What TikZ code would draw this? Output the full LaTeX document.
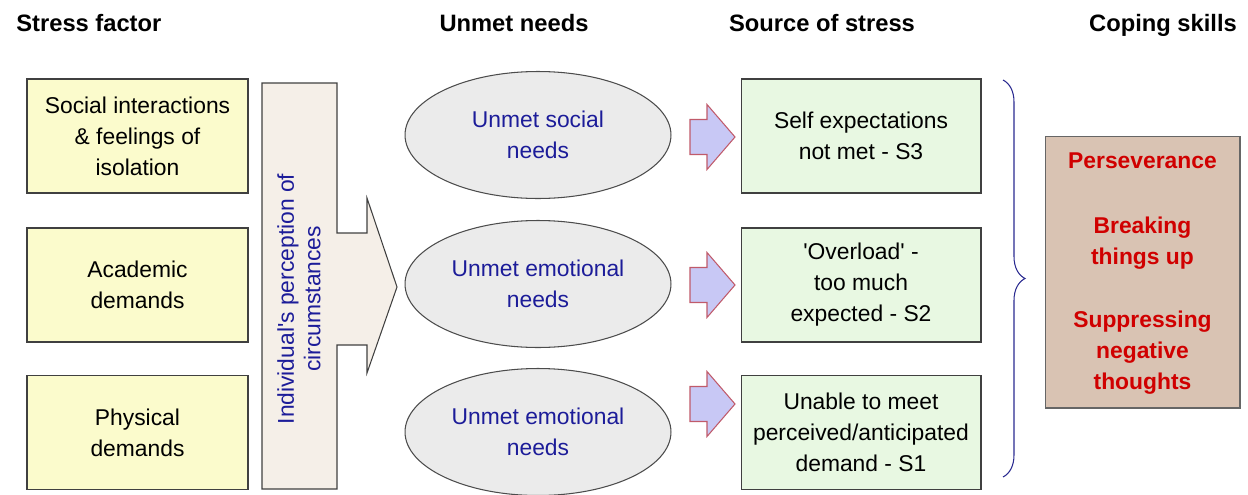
\documentclass[tikz,border=0pt]{standalone}
\usepackage{fontspec}
\setmainfont{Liberation Sans}
\usepackage{tikz}
\usetikzlibrary{positioning}
\usetikzlibrary{shapes,arrows,calc,decorations.pathreplacing}

\definecolor{factorfill}{HTML}{FBFBCC}
\definecolor{percfill}{HTML}{F5EFE8}
\definecolor{needfill}{HTML}{EBEBEB}
\definecolor{needtext}{HTML}{1C1C99}
\definecolor{arrowfill}{HTML}{C8C8F5}
\definecolor{arrowline}{HTML}{C05A6A}
\definecolor{sourcefill}{HTML}{E8F8E2}
\definecolor{copefill}{HTML}{D9C3B3}
\definecolor{copetext}{HTML}{D00000}
\definecolor{bracecol}{HTML}{2A2A90}

\begin{document}
\begin{tikzpicture}[x=0.02cm, y=-0.02cm, semithick,
  every node/.style={font=\fontsize{13}{17.6}\selectfont, align=center},
  head/.style={font=\fontsize{13.5}{16}\selectfont\bfseries},
  factor/.style={draw=black!75, fill=factorfill, minimum width=4.42cm, minimum height=2.28cm},
  need/.style={ellipse, draw=black!70, fill=needfill, text=needtext, minimum width=5.32cm, minimum height=2.54cm, inner sep=0pt},
  source/.style={draw=black!75, fill=sourcefill, minimum width=4.8cm, minimum height=2.28cm},
  cope/.style={draw=black!60, fill=copefill, text=copetext, font=\fontsize{13}{17.6}\selectfont\bfseries, minimum width=3.9cm, minimum height=5.44cm}]
  \useasboundingbox (0,0) rectangle (1248,494);

  % column titles
  \node[head, anchor=base west] (T1) at (10,31) {Stress factor};
  \node[head, anchor=base] (T2) at (514,31) {Unmet needs};
  \node[head, anchor=base] (T3) at (822,31) {Source of stress};
  \node[head, anchor=base] (T4) at (1163,31) {Coping skills};

  % stress factors
  \node[factor] (F1) at (137.5,136) {Social interactions\\\& feelings of\\isolation};
  \node[factor] (F2) at (137.5,285) {Academic\\demands};
  \node[factor] (F3) at (137.5,432.5) {Physical\\demands};

  % perception arrow
  \draw[black!75, fill=percfill] (262,83) -- (337,83) -- (337,233) -- (367,233) -- (367,198) -- (397,287)
    -- (367,373) -- (367,345) -- (337,345) -- (337,489) -- (262,489) -- cycle;
  \node[rotate=90, text=needtext, font=\fontsize{13}{15}\selectfont] (P) at (299,299) {Individual\textquotesingle s perception of\\circumstances};

  % unmet needs
  \node[need] (N1) at (538,135) {Unmet social\\needs};
  \node[need] (N2) at (538,284) {Unmet emotional\\needs};
  \node[need] (N3) at (538,432) {Unmet emotional\\needs};

  % small block arrows
  \foreach \y in {137,285,404}
    \draw[arrowline, fill=arrowfill] (690,\y-17.5) -- (707,\y-17.5) -- (707,\y-32.5) -- (735,\y)
      -- (707,\y+32.5) -- (707,\y+17.5) -- (690,\y+17.5) -- cycle;

  % sources of stress
  \node[source] (S3) at (861,136) {Self expectations\\not met - S3};
  \node[source] (S2) at (861,285) {\textquotesingle Overload\textquotesingle\ -\\too much\\expected - S2};
  \node[source] (S1) at (861,432.5) {Unable to meet\\perceived/anticipated\\demand - S1};

  \draw[bracecol, decorate, decoration={brace, amplitude=0.44cm}] (1003,80) -- (1003,477);

  % coping skills
  \node[cope] (C) at (1142.5,272) {}; % box
  \node[text=copetext, font=\fontsize{13}{17.6}\selectfont\bfseries] (CT) at (1142.5,273.5) {Perseverance\\[19.3pt]Breaking\\things up\\[18pt]Suppressing\\negative\\thoughts};
\end{tikzpicture}
\end{document}
